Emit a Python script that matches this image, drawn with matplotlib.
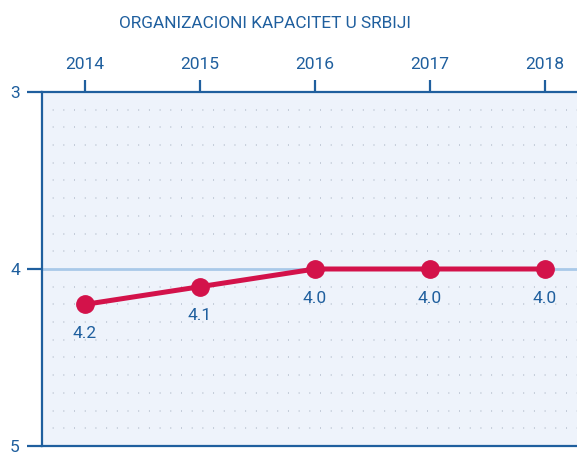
import matplotlib.pyplot as plt
import numpy as np

# podaci
godine = [2014, 2015, 2016, 2017, 2018]
vrednosti = [4.2, 4.1, 4.0, 4.0, 4.0]
oznake = ['4.2', '4.1', '4.0', '4.0', '4.0']
y_ticks = [3, 4, 5]

plava = '#1f5f9e'
crvena = '#d3124a'

plt.rcParams['font.family'] = ['Roboto', 'DejaVu Sans']

fig = plt.figure(figsize=(5.77, 4.55), dpi=100)
ax = fig.add_axes([0.0728, 0.0198, 0.9272, 0.7780])
ax.set_facecolor('#eef3fb')

# tackaste linije na svakih 0.1
for y in np.arange(3.1, 5.0, 0.1):
    if abs(y - 4.0) < 1e-6:
        continue
    ax.axhline(y, color='#b3bdcb', lw=1.1, linestyle=(0, (0.6, 6.4)), zorder=1)
ax.axhline(4.0, color='#a9c9e9', lw=2, zorder=2)

ax.plot(godine, vrednosti, color=crvena, lw=3.6, marker='o', markersize=12.5, zorder=4)
for x, v, t in zip(godine, vrednosti, oznake):
    ax.annotate(t, (x, v), xytext=(0, -21), textcoords='offset points',
                ha='center', va='center', fontsize=12.5, color=plava, zorder=5)

ax.set_xlim(2013.626, 2018.278)
ax.set_ylim(5, 3)
ax.set_yticks(y_ticks)
ax.set_xticks(godine)

ax.xaxis.tick_top()
ax.tick_params(axis='x', direction='out', length=8.5, width=1.6, color=plava,
               labelcolor=plava, labelsize=12.5, pad=6)
ax.tick_params(axis='y', direction='out', length=11, width=1.6, color=plava,
               labelcolor=plava, labelsize=12.5, pad=5)

for s in ['left', 'top', 'bottom']:
    ax.spines[s].set_color(plava)
    ax.spines[s].set_linewidth(1.6)
ax.spines['right'].set_visible(False)

fig.text(0.46, 0.948, 'ORGANIZACIONI KAPACITET U SRBIJI', ha='center', va='center',
         fontsize=12.4, color=plava)

fig.savefig('out.png', dpi=100)
